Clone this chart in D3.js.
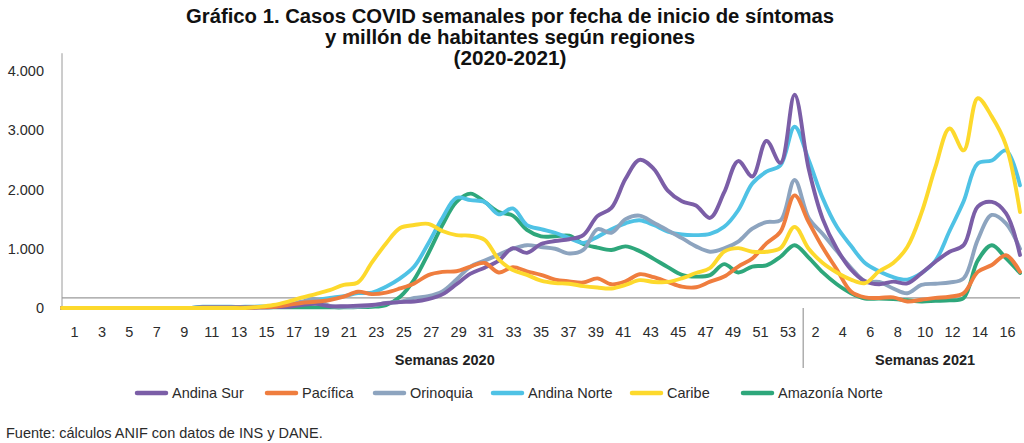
<!DOCTYPE html>
<html>
<head>
<meta charset="utf-8">
<script src="https://cdn.jsdelivr.net/npm/d3@7"></script>
<style>
  html, body { margin: 0; padding: 0; background: #fff; }
  svg { display: block; font-family: "Liberation Sans", Arial, sans-serif; }
</style>
</head>
<body>
<svg id="chart" width="1024" height="443"></svg>
<script>
// ---- Data ----
const weeks2020 = [1,2,3,4,5,6,7,8,9,10,11,12,13,14,15,16,17,18,19,20,21,22,23,24,25,26,27,28,29,30,31,32,33,34,35,36,37,38,39,40,41,42,43,44,45,46,47,48,49,50,51,52,53];
const weeks2021 = [1,2,3,4,5,6,7,8,9,10,11,12,13,14,15,16];
const yTicks = [0, 1000, 2000, 3000, 4000];
const titleLines = [
  "Gráfico 1. Casos COVID semanales por fecha de inicio de síntomas",
  "y millón de habitantes según regiones",
  "(2020-2021)"
];
const groupLabels = ["Semanas 2020", "Semanas 2021"];
const sourceText = "Fuente: cálculos ANIF con datos de INS y DANE.";

const seriesNames = ["Andina Sur", "Pacífica", "Orinoquia", "Andina Norte", "Caribe", "Amazonía Norte"];
const seriesColors = ["#7b5ea7", "#ef7d3e", "#8da4bf", "#4fc2e5", "#fdd92c", "#2ea77b"];

const andinaSur = [
  0,0,0,0,0,0,0,0,0,0, 10,10,10,10,10,15,
  20,50,70,30,30,40,50,80,100,110,150,
  230,400,580,680,800,1010,930,1080,1130,1160,1230,
  1550,1690,2180,2500,2350,1980,1800,1730,1520,1950,2480,2220,2820,2450,3600,
  2350,1500,1000,650,450,400,445,415,585,780,950,1060,1710,1790,1600,895
];
const pacifica = [
  0,0,0,0,0,0,0,0,0,0, 5,5,5,5,10,20,
  50,85,105,135,190,275,235,260,330,415,555,
  610,620,700,760,600,690,620,560,480,450,430,
  500,400,450,570,520,440,360,350,445,530,700,835,1090,1290,1900,
  1450,1020,650,280,180,170,180,110,140,170,190,250,610,725,890,610
];
const orinoquia = [
  0,0,0,0,0,0,0,0,0,0, 5,5,5,5,10,15,
  50,105,150,35,20,20,40,85,105,170,200,
  280,480,700,800,900,1000,1060,1030,1000,920,980,
  1330,1270,1500,1560,1440,1310,1180,1040,950,1005,1120,1340,1450,1480,2160,
  1520,1250,960,680,450,440,330,250,390,410,430,500,1150,1570,1430,1000
];
const andinaNorte = [
  0,0,0,0,0,0,0,0,0,0, 20,20,20,20,25,30,
  50,80,135,170,200,250,260,360,500,700,1090,
  1520,1860,1820,1790,1580,1680,1400,1330,1270,1180,1100,
  1200,1330,1430,1480,1400,1290,1240,1230,1250,1370,1650,2100,2300,2410,3060,
  2500,1850,1370,1050,760,620,520,480,590,800,1300,1800,2440,2490,2660,2070
];
const caribe = [
  0,0,0,0,0,0,0,0,0,0, 0,0,0,0,20,50,
  105,175,235,300,390,430,770,1090,1350,1400,1420,
  1300,1230,1220,1150,820,640,560,460,420,410,370,
  345,330,390,470,440,440,500,590,675,950,1010,950,950,1010,1370,
  1000,760,600,480,420,620,760,1030,1600,2380,3030,2660,3540,3230,2750,1620
];
const amazoniaNorte = [
  0,0,0,0,0,0,0,0,0,0, 10,10,10,10,10,10,
  10,10,10,10,10,15,20,50,190,480,920,
  1400,1790,1930,1790,1620,1560,1320,1210,1210,1220,1080,
  1020,980,1040,960,830,690,560,530,555,740,600,700,720,865,1060,
  850,600,400,250,160,160,150,130,110,120,130,170,800,1060,840,590
];
const seriesValues = [andinaSur, pacifica, orinoquia, andinaNorte, caribe, amazoniaNorte];
const baselineValue = 170;

// ---- Build ----
const categories = weeks2020.map(w => ({year: 2020, week: w}))
  .concat(weeks2021.map(w => ({year: 2021, week: w})));
const n = categories.length;

const svg = d3.select("#chart");

const x = d3.scaleLinear().domain([0, n - 1]).range([62, 1020]);
const xLab = d3.scaleLinear().domain([0, n - 1]).range([74, 1007]);
const y = d3.scaleLinear().domain([0, 4000]).range([308, 71]);

const locale = d3.formatLocale({decimal: ",", thousands: ".", grouping: [3], currency: ["", ""]});
const fmt = locale.format(",");

// Title
const title = svg.append("g").attr("font-weight", "bold").attr("font-size", 20).attr("fill", "#111")
  .attr("font-family", "'Liberation Sans Narrow', 'Arial Narrow', 'Liberation Sans', Arial, sans-serif")
  .attr("text-anchor", "middle");
const titleWidths = [648, 370, 113];
const titleBase = [23, 44, 65];
titleLines.forEach((t, i) => {
  title.append("text").attr("x", 510).attr("y", titleBase[i])
    .attr("textLength", titleWidths[i]).attr("lengthAdjust", "spacingAndGlyphs").text(t);
});

// Y axis
const yAxis = d3.axisLeft(y).tickValues(yTicks).tickFormat(d => fmt(d)).tickSize(0).tickPadding(18);
const gy = svg.append("g").attr("transform", "translate(62,0)").call(yAxis);
gy.select(".domain").remove();
gy.selectAll("text").attr("font-size", 14.5).attr("fill", "#2b2b2b").attr("font-family", "Liberation Sans, Arial, sans-serif");
svg.append("line").attr("x1", 62).attr("x2", 62).attr("y1", y(4300)).attr("y2", y(0))
  .attr("stroke", "#9a9a9a").attr("stroke-width", 1);

// Baseline line
svg.append("line").attr("x1", 62).attr("x2", 1020).attr("y1", y(baselineValue)).attr("y2", y(baselineValue))
  .attr("stroke", "#9a9a9a").attr("stroke-width", 1.2);

// X axis labels
const tickIdx = categories.map((c, i) => i).filter(i => {
  const c = categories[i];
  return c.year === 2020 ? (c.week % 2 === 1) : (c.week % 2 === 0);
});
const xAxis = d3.axisBottom(xLab).tickValues(tickIdx).tickFormat(i => categories[i].week).tickSize(0).tickPadding(19);
const gx = svg.append("g").attr("transform", `translate(0,${y(0)})`).call(xAxis);
gx.select(".domain").remove();
gx.selectAll("text").attr("font-size", 14.5).attr("fill", "#2b2b2b").attr("font-family", "Liberation Sans, Arial, sans-serif");

// Separator between years
const firstIdx2021 = categories.findIndex(c => c.year === 2021);
svg.append("line").attr("x1", xLab(firstIdx2021) + 2).attr("x2", xLab(firstIdx2021) + 2)
  .attr("y1", y(0)).attr("y2", 368).attr("stroke", "#9a9a9a").attr("stroke-width", 1.2);

// Group labels
const group2020 = categories.map((c, i) => i).filter(i => categories[i].year === 2020);
const group2021 = categories.map((c, i) => i).filter(i => categories[i].year === 2021);
const groupCenters = [xLab(d3.mean(group2020)) + 14, xLab(d3.mean(group2021)) + 21];
groupLabels.forEach((g, i) => {
  svg.append("text").attr("x", groupCenters[i]).attr("y", 365).attr("text-anchor", "middle")
    .attr("font-weight", "bold").attr("font-size", 14.5).attr("fill", "#222").text(g);
});

// Lines
const line = d3.line().x((d, i) => x(i)).y(d => y(d)).curve(d3.curveCatmullRom.alpha(0.5));
const drawOrder = [5, 3, 2, 0, 1, 4];
drawOrder.forEach(k => {
  svg.append("path").datum(seriesValues[k]).attr("d", line)
    .attr("fill", "none").attr("stroke", seriesColors[k]).attr("stroke-width", 3.9)
    .attr("stroke-linejoin", "round").attr("stroke-linecap", "round");
});

// Legend
const legendX = [137, 267, 375, 493, 632, 743];
const legend = svg.append("g");
seriesNames.forEach((name, k) => {
  legend.append("line").attr("x1", legendX[k]).attr("x2", legendX[k] + 29).attr("y1", 393).attr("y2", 393)
    .attr("stroke", seriesColors[k]).attr("stroke-width", 4.5).attr("stroke-linecap", "round");
  legend.append("text").attr("x", legendX[k] + 35).attr("y", 398).attr("font-size", 14.5).attr("fill", "#2b2b2b").text(name);
});

// Source
svg.append("text").attr("x", 6).attr("y", 438).attr("font-size", 14.5).attr("fill", "#2b2b2b").text(sourceText);
</script>
</body>
</html>
